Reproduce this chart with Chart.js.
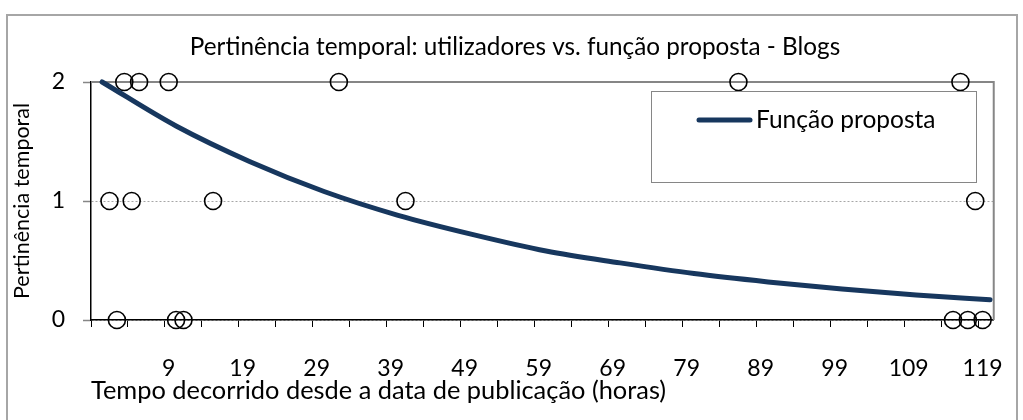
<!DOCTYPE html>
<html>
<head>
<meta charset="utf-8">
<script src="https://cdn.jsdelivr.net/npm/chart.js@4"></script>
<style>
  html, body { margin: 0; padding: 0; background: #fff; }
  #wrap { width: 1023px; height: 420px; }
</style>
</head>
<body>
<div id="wrap"><canvas id="chart" width="1023" height="420"></canvas></div>
<script>
// Pontos dos utilizadores (horas, pertinência)
const userHours  = [3, 5, 9, 32, 86, 116, 1, 4, 15, 41, 118, 2, 10, 11, 115, 117, 119];
const userScores = [2, 2, 2, 2, 2, 2, 1, 1, 1, 1, 1, 0, 0, 0, 0, 0, 0];

// Função proposta
const curveHours  = [0, 10, 20, 30, 40, 50, 60, 70, 80, 90, 100, 110, 120];
const curveValues = [2.00, 1.63, 1.33, 1.08, 0.88, 0.72, 0.58, 0.48, 0.39, 0.32, 0.26, 0.21, 0.17];

// Eixos
const xTickMarks = [-1.5, 3.5, 8.5, 13.5, 18.5, 23.5, 28.5, 33.5, 38.5, 43.5, 48.5, 53.5, 58.5,
                    63.5, 68.5, 73.5, 78.5, 83.5, 88.5, 93.5, 98.5, 103.5, 108.5, 113.5, 118.5];
const xTickLabels = [9, 19, 29, 39, 49, 59, 69, 79, 89, 99, 109, 119];
const yTickLabels = [0, 1, 2];

const chartTitle = 'Pertinência temporal: utilizadores vs. função proposta - Blogs';

const FONT = 'Lato';
const curveColor = '#17375e';

const framePlugin = {
  id: 'frame',
  beforeDatasetsDraw(chart) {
    const { ctx, chartArea: a } = chart;
    ctx.save();
    ctx.strokeStyle = '#868686';
    ctx.lineWidth = 2;
    ctx.beginPath();
    ctx.moveTo(a.left, a.top);
    ctx.lineTo(a.right, a.top);
    ctx.lineTo(a.right, a.bottom);
    ctx.stroke();
    ctx.restore();
  },
  afterDraw(chart) {
    const { ctx } = chart;
    ctx.save();
    // moldura exterior
    ctx.strokeStyle = '#a6a6a6';
    ctx.lineWidth = 2;
    ctx.strokeRect(7, 15, 1010, 430);

    // título
    ctx.fillStyle = '#000';
    ctx.font = '24.3px ' + FONT;
    ctx.textAlign = 'center';
    ctx.textBaseline = 'middle';
    ctx.fillText(chartTitle, 515, 47);

    // legenda
    ctx.fillStyle = '#fff';
    ctx.fillRect(651, 91, 325, 91);
    ctx.strokeStyle = '#868686';
    ctx.lineWidth = 1;
    ctx.strokeRect(651.5, 91.5, 325, 91);
    const ds = chart.data.datasets[0];
    ctx.strokeStyle = ds.borderColor;
    ctx.lineWidth = 5;
    ctx.lineCap = 'round';
    ctx.beginPath();
    ctx.moveTo(699, 120);
    ctx.lineTo(750, 120);
    ctx.stroke();
    ctx.fillStyle = '#000';
    ctx.font = '24.5px ' + FONT;
    ctx.textAlign = 'left';
    ctx.fillText(ds.label, 756, 120);
    ctx.restore();
  }
};

new Chart(document.getElementById('chart'), {
  data: {
    datasets: [{
      type: 'line',
      label: 'Função proposta',
      data: curveHours.map((h, i) => ({ x: h, y: curveValues[i] })),
      borderColor: curveColor,
      borderWidth: 5,
      borderCapStyle: 'round',
      pointRadius: 0,
      cubicInterpolationMode: 'monotone',
      clip: false
    }, {
      type: 'scatter',
      label: 'Utilizadores',
      data: userHours.map((h, i) => ({ x: h, y: userScores[i] })),
      pointStyle: 'circle',
      pointRadius: 8.5,
      borderColor: '#000',
      borderWidth: 1.6,
      backgroundColor: 'rgba(0,0,0,0)',
      clip: false
    }]
  },
  options: {
    responsive: false,
    animation: false,
    layout: { padding: { left: 0, right: 23, top: 82, bottom: 0 } },
    plugins: {
      legend: { display: false },
      tooltip: { enabled: false },
      title: { display: false }
    },
    scales: {
      x: {
        type: 'linear',
        position: 'bottom',
        weight: 0,
        min: -1.5,
        max: 120.5,
        afterBuildTicks: s => { s.ticks = xTickMarks.map(v => ({ value: v })); },
        afterFit: s => { s.height = 7; },
        ticks: { display: false },
        grid: { drawOnChartArea: false, drawTicks: true, tickLength: 7, tickColor: '#000', tickWidth: 1 },
        border: { color: '#000', width: 1.5 }
      },
      xl: {
        type: 'linear',
        axis: 'x',
        position: 'bottom',
        weight: 1,
        min: -1.5,
        max: 120.5,
        afterBuildTicks: s => { s.ticks = xTickLabels.map(v => ({ value: v })); },
        afterFit: s => { s.height = 93; },
        grid: { display: false },
        border: { display: false },
        ticks: {
          color: '#000',
          padding: 20,
          maxRotation: 0,
          autoSkip: false,
          font: { family: FONT, size: 23 }
        },
        title: {
          display: true,
          align: 'start',
          text: 'Tempo decorrido desde a data de publicação (horas)',
          color: '#000',
          font: { family: FONT, size: 25.4, lineHeight: 1.2 },
          padding: { top: 0, bottom: 13.8 }
        }
      },
      y: {
        type: 'linear',
        min: 0,
        max: 2,
        afterBuildTicks: s => { s.ticks = yTickLabels.map(v => ({ value: v })); },
        afterFit: s => { s.width = 91; },
        ticks: { color: '#000', padding: 18, font: { family: FONT, size: 23 } },
        grid: { color: '#a6a6a6', lineWidth: 1, tickColor: '#868686', tickLength: 8, tickWidth: 1.5, tickBorderDash: [] },
        border: { color: '#000', width: 1.5, dash: [2, 2] },
        title: {
          display: true,
          text: 'Pertinência temporal',
          color: '#000',
          font: { family: FONT, size: 21.5, lineHeight: 1.2 },
          padding: { top: 9.1, bottom: 0 }
        }
      }
    }
  },
  plugins: [framePlugin]
});
</script>
</body>
</html>
